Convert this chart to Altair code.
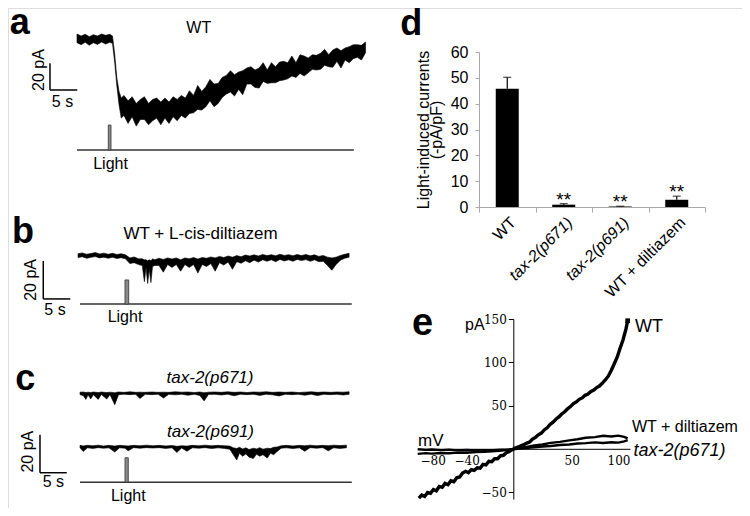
import altair as alt
import pandas as pd

# ---------------- panel a : WT light-induced current (noisy trace envelope, pA) ----------------
A_T = [0, 0.75, 1.5, 2.25, 3.0, 3.75, 4.5, 5.25, 6.0, 6.5,
       6.9, 7.3, 7.7, 8.1,
       8.6, 9.35, 10.1, 10.85, 11.6, 12.35, 13.1, 13.85, 14.6, 15.35,
       16.1, 16.85, 17.6, 18.35, 19.1, 19.85,
       20.6, 21.35, 22.1, 22.85, 23.6, 24.35, 25.1, 25.85, 26.6, 27.35,
       28.1, 28.85, 29.6, 30.35, 31.1, 31.85, 32.6, 33.35, 34.1, 34.85,
       35.6, 36.35, 37.1, 37.85, 38.6, 39.35, 40.1, 40.85, 41.6, 42.35,
       43.1, 43.85, 44.6, 45.35, 46.1, 46.85, 47.6, 48.35, 49.1, 49.85,
       50.6, 51.35, 52.1, 52.85]
A_HI = [3.0, 1.5, 2.8, 1.0, 2.5, 1.5, 3.0, 2.0, 2.8, 1.5,
        -12, -30, -40, -45,
        -43, -47, -44, -49, -46, -44, -49, -46, -45, -48,
        -45, -48, -44, -46, -43, -45,
        -39.5, -43, -35.5, -40, -36.5, -31, -34.5, -34, -29.5, -28,
        -24.5, -27.5, -25.5, -24.5, -22.5, -21.5, -24, -22.5, -18.5, -24,
        -18.5, -21.5, -18, -17.5, -18.5, -13.5, -18.5, -12.5, -13.5, -15,
        -12.5, -13, -11.5, -8.5, -12.5, -9, -7.5, -9.5, -7.5, -6.5,
        -5, -5, -5.5, -3]
A_LO = [-3.5, -5.0, -3.2, -5.5, -3.5, -4.8, -3.0, -4.5, -3.2, -4.0,
        -18, -36, -50, -60,
        -58, -64, -59, -66, -61, -61, -65, -62, -60, -65,
        -60, -64, -59, -62, -58, -60,
        -56.5, -56, -53.5, -54, -51.5, -47, -51.5, -49, -44.5, -42,
        -40.5, -43.5, -38.5, -42.5, -34.5, -34.5, -37, -37.5, -32.5, -34,
        -33.5, -33.5, -32, -31.5, -30.5, -28.5, -29.5, -26.5, -28.5, -26,
        -23.5, -24, -23.5, -20.5, -21.5, -22, -17.5, -22.5, -16.5, -18.5,
        -15.5, -14.5, -16.5, -11]

# ---------------- panel b : WT + L-cis-diltiazem ----------------
B_T = [0, 0.8, 1.6, 2.4, 3.2, 4.0, 4.8, 5.6, 6.4, 7.2, 8.0, 8.8, 9.6, 10.4, 11.2,
       11.9, 12.3, 12.6, 12.9, 13.2, 13.5, 13.8, 14.2,
       15.0, 15.8, 16.6, 17.4, 18.2, 19.0, 19.8, 20.6, 21.4, 22.2,
       23.0, 23.8, 24.6, 25.4, 26.2, 27.0, 27.8, 28.6, 29.4, 30.2,
       31.0, 31.8, 32.6, 33.4, 34.2, 35.0, 35.8, 36.6, 37.4, 38.2,
       39.0, 39.8, 40.6, 41.4, 42.2, 43.0, 43.8, 44.6, 45.4, 46.2,
       47.0, 47.8, 48.6, 49.4, 50.2]
B_HI = [1.2, 1.6, 0.9, 1.3, 1.8, 1.1, 1.5, 0.9, 1.4, 0.8, 1.2, 0.6, -1.0, -0.5, -1.5,
        -1.5, -2.0, -2.0, -2.5, -2.0, -2.5, -1.5, -2.0,
        -1.2, -1.8, -1.0, -1.6, -1.0, -2.0, -1.0, -1.5, -0.8, -1.6,
        -0.8, -1.2, -0.5, -1.0, -0.2, -0.8, 0.0, -0.6, 0.2, -0.4,
        0.5, 0.0, 0.6, 0.0, 0.8, 0.2, 0.7, 0.1, 0.9, 0.3,
        0.7, 0.1, 0.8, 0.2, 0.8, 0.1, 0.6, -0.2, 0.3, -0.6,
        -1.0, -0.6, 0.3, 0.9, 1.4]
B_LO = [-0.8, -0.4, -1.2, -0.7, -0.3, -1.0, -0.6, -1.2, -0.7, -1.3, -0.9, -1.5, -4.0, -3.5, -4.5,
        -5.0, -13.5, -6.0, -14.5, -7.0, -14.0, -5.5, -5.0,
        -5.0, -8.5, -4.5, -6.0, -4.5, -8.0, -4.5, -6.0, -4.5, -9.0,
        -4.5, -5.5, -4.0, -8.0, -3.5, -4.8, -3.2, -7.0, -3.0, -3.8,
        -2.5, -3.5, -2.2, -3.2, -2.0, -2.8, -2.0, -3.0, -1.8, -2.6,
        -2.0, -2.8, -1.8, -2.4, -1.9, -2.8, -2.0, -3.0, -2.8, -5.0,
        -7.5, -4.5, -2.2, -1.2, -0.6]

# ---------------- panel c : tax-2 mutants ----------------
C1_T = [0.0, 0.6, 1.1, 1.5, 2.0, 2.5, 3.4, 4.0, 5.0, 5.6,
        6.5, 7.2, 8.2, 9.4, 10.4, 11.2, 12.2, 13.4, 14.6, 15.6,
        16.6, 17.8, 19.0, 20.2, 21.4, 22.4, 23.2, 24.0, 25.2, 26.4,
        27.6, 28.8, 30.0, 31.2, 32.4, 33.6, 34.8, 36.0, 37.2, 38.4,
        39.6, 40.8, 42.0, 43.2, 44.4, 45.6, 46.8, 48.0, 49.2, 50.3]
C1_HI = [0.6, 0.7, 0.4, 0.6, 0.4, 0.7, 0.4, 0.7, 0.4, 0.6,
         0.3, 0.7, 0.5, 0.8, 0.5, 0.6, 0.5, 0.7, 0.5, 0.6,
         0.5, 0.8, 0.6, 0.7, 0.4, 0.7, 0.3, 0.6, 0.7, 0.5,
         0.8, 0.5, 0.7, 0.4, 0.7, 0.6, 0.8, 0.5, 0.7, 0.5,
         0.7, 0.4, 0.6, 0.8, 0.5, 0.7, 0.5, 0.7, 0.6, 0.8]
C1_LO = [-0.7, -1.2, -3.2, -0.8, -3.0, -0.7, -3.2, -0.6, -3.0, -0.7,
         -6.0, -0.7, -0.5, -0.7, -0.5, -2.8, -0.5, -0.7, -0.5, -2.5,
         -0.5, -0.8, -0.5, -1.0, -0.5, -1.2, -4.0, -0.6, -0.5, -0.9,
         -0.5, -1.3, -0.5, -0.7, -0.5, -1.1, -0.5, -0.8, -1.4, -0.5,
         -0.7, -0.5, -1.0, -0.5, -1.2, -0.5, -0.7, -0.5, -0.9, -0.5]
C2_T = [0.0, 0.6, 1.4, 2.4, 3.4, 4.4, 5.4, 6.5, 7.4, 8.4,
        9.0, 10.0, 11.2, 12.4, 13.6, 14.8, 16.0, 17.2, 18.1, 19.0,
        20.0, 21.0, 22.2, 23.4, 24.6, 25.8, 27.0, 28.0, 28.6, 29.3,
        29.8, 30.4, 31.0, 31.6, 32.4, 33.0, 33.6, 34.2, 35.0, 35.6,
        36.2, 36.8, 37.6, 38.6, 39.8, 41.0, 42.0, 43.0, 44.2, 45.4,
        46.4, 47.4, 48.6, 49.8]
C2_HI = [0.7, 0.4, 0.7, 0.5, 0.8, 0.4, 0.7, 0.3, 0.7, 0.5,
         0.4, 0.7, 0.5, 0.8, 0.5, 0.7, 0.4, 0.6, 0.2, 0.5,
         0.3, 0.7, 0.5, 0.8, 0.5, 0.7, 0.5, 0.3, -0.5, -1.0,
         -0.3, -1.2, -0.6, -1.5, -0.8, -1.2, -0.5, -1.3, -0.8, -1.0,
         -0.3, -0.2, 0.5, 0.7, 0.4, 0.7, 0.5, 0.8, 0.5, 0.7,
         0.5, 0.8, 0.6, 0.8]
C2_LO = [-0.6, -2.5, -0.6, -0.9, -0.5, -0.8, -0.6, -2.8, -0.6, -0.8,
         -2.2, -0.5, -0.8, -0.5, -0.7, -0.5, -0.9, -0.6, -3.0, -0.7,
         -2.4, -0.6, -0.8, -0.5, -1.0, -0.6, -0.9, -1.4, -4.0, -7.0,
         -3.5, -5.0, -3.8, -5.5, -6.2, -4.0, -5.0, -4.2, -6.0, -3.5,
         -4.2, -2.6, -0.8, -0.6, -1.0, -0.6, -2.4, -0.5, -0.8, -0.5,
         -2.2, -0.6, -0.9, -0.6]

# ---------------- panel d : bar chart ----------------
D_GROUPS = ["WT", "tax-2(p671)", "tax-2(p691)", "WT + diltiazem"]
D_MEAN = [45.8, 0.9, 0.2, 2.8]
D_TOP = [50.2, 1.3, 0.3, 4.2]
D_SIG = ["", "**", "**", "**"]
D_Y_TICKS = [0, 10, 20, 30, 40, 50, 60]

# ---------------- panel e : I-V curves (mV, pA) ----------------
E_WT_V = [-81, -78.5, -76, -73.5, -71, -68.5, -66, -63.5, -61, -58.5,
          -56, -53.5, -51, -48.5, -46, -43.5, -41, -38.5, -36, -33.5,
          -31, -28.5, -26, -23.5, -21, -18.5, -16, -13.5, -11, -8.5,
          -6, -3.5, -1, 1.5, 4, 6.5, 9, 11.5, 14, 16.5,
          19, 21.5, 24, 26.5, 29, 31.5, 34, 36.5, 39, 41.5,
          44, 46.5, 49, 51.5, 54, 56.5, 59, 61.5, 64, 66.5,
          69, 71.5, 74, 76.5, 79, 81.5, 84, 86.5, 89, 91.5,
          94, 96.5, 98]
E_WT_I = [-57, -53.5, -55, -50.5, -51.5, -47, -48.5, -43.5, -44.5, -40,
          -41.5, -37, -38, -33.5, -32.5, -28, -26, -27.5, -24, -25,
          -22, -22.5, -18, -18.5, -14.5, -15, -11.5, -11.5, -8, -7.5,
          -4.5, -3.2, -1, 0.8, 1.8, 3.6, 4.8, 6.6, 7.8, 11.2,
          13.2, 16.2, 18.2, 21.8, 24.2, 28.2, 30.8, 34.2, 36.8, 40.2,
          42.8, 46.2, 48.8, 52.2, 54.2, 57.2, 58.8, 61.8, 63.2, 66.2,
          67.8, 70.8, 72.8, 76.2, 79.8, 84.2, 90.8, 98.2, 105.8, 116.2,
          125.8, 138.2, 148]
E_DIL_V = [-82, -75, -70, -62, -55, -48, -40, -32, -25, -18, -10, -4, 0, 5,
           10, 18, 25, 32, 40, 48, 55, 62, 70, 77, 84, 90, 95, 98]
E_DIL_I = [-0.5, -1.2, -0.8, -1.5, -1.0, -1.8, -1.4, -1.9, -1.5, -1.6, -1.0, -0.8, -0.2, 0.8,
           2.0, 3.8, 5.0, 6.8, 8.0, 9.8, 11.0, 12.8, 13.5, 15.0, 14.2, 15.2, 13.8, 12.0]
E_P671_V = [-82, -75, -70, -62, -55, -48, -40, -32, -25, -18, -10, -4, 0, 5,
            10, 18, 25, 32, 40, 48, 55, 62, 70, 77, 84, 90, 95, 98]
E_P671_I = [-5.8, -5.0, -5.6, -4.8, -5.2, -4.4, -4.6, -3.8, -3.5, -2.8, -2.0, -1.2, -0.6, 0.2,
            1.0, 1.8, 2.6, 3.2, 4.4, 5.0, 6.2, 6.6, 7.4, 6.8, 7.6, 7.2, 8.6, 10.0]
E_Y_TICKS = [150, 100, 50, -50]
E_X_TICKS = [-80, -40, 50, 100]

SCALE_PA = 20
SCALE_S = 5

# ---------------- style / layout (pixel ranges of each panel inside the 734x500 canvas) ----------------
FONT = "Liberation Sans"
SERIF = "DejaVu Serif"
W, H = 734, 500
GRAY = "#a8a8a8"


def lin(domain, rng):
    return alt.Scale(domain=domain, range=rng, nice=False, zero=False)


def trace_panel(xs, ys, traces, stim, bar, texts):
    def X(f):
        return alt.X(f, type="quantitative", scale=xs, axis=None)

    def Y(f):
        return alt.Y(f, type="quantitative", scale=ys, axis=None)

    layers = []
    for t, hi, lo, off in traces:
        df = pd.DataFrame({"t": t, "hi": [v + off for v in hi], "lo": [v + off for v in lo]})
        layers.append(alt.Chart(df).mark_area(color="black", stroke="black", strokeWidth=0.6)
                      .encode(x=X("t"), y=Y("lo"), y2="hi"))
    t0, t1, on, off, base, top = stim
    layers.append(alt.Chart(pd.DataFrame({"t": [t0], "t2": [t1], "v": [base]}))
                  .mark_rule(color="#333333", strokeWidth=1.5)
                  .encode(x=X("t"), x2="t2", y=Y("v")))
    layers.append(alt.Chart(pd.DataFrame({"t": [on], "t2": [off], "v": [base], "v2": [top]}))
                  .mark_rect(fill="#8a8a8a", stroke="#333333", strokeWidth=0.8)
                  .encode(x=X("t"), x2="t2", y=Y("v"), y2="v2"))
    bt, bv = bar
    layers.append(alt.Chart(pd.DataFrame({"t": [bt], "v": [bv], "v2": [bv + SCALE_PA]}))
                  .mark_rule(color="black", strokeWidth=1.5)
                  .encode(x=X("t"), y=Y("v"), y2="v2"))
    layers.append(alt.Chart(pd.DataFrame({"t": [bt], "t2": [bt + SCALE_S], "v": [bv]}))
                  .mark_rule(color="black", strokeWidth=1.5)
                  .encode(x=X("t"), x2="t2", y=Y("v")))
    for txt, tx, ty, props in texts:
        layers.append(alt.Chart(pd.DataFrame({"t": [tx], "v": [ty], "s": [txt]}))
                      .mark_text(color="black", font=FONT, **props)
                      .encode(x=X("t"), y=Y("v"), text="s:N"))
    return alt.layer(*layers)


LETTER = dict(fontSize=36, fontWeight="bold", align="left", baseline="alphabetic")
LAB = dict(fontSize=16)
ROT = dict(fontSize=16, angle=270)

panel_a = trace_panel(
    lin([0, 50], [69, 342]), lin([-100, 0], [163.5, 30]),
    [(A_T, A_HI, A_LO, 0)],
    (0, 50.7, 5.73, 6.23, -83.9, -65.2),
    (-4.95, -38.95),
    [("a", -12.3, 3.0, LETTER), ("WT", 22.3, 7.5, LAB), ("20 pA", -7.0, -24.0, ROT),
     ("5 s", -2.66, -47.9, LAB), ("Light", 6.14, -94.4, LAB)])

panel_b = trace_panel(
    lin([0, 50], [70, 340]), lin([-20, 0], [286, 248]),
    [(B_T, B_HI, B_LO, 0)],
    (0.37, 50.7, 8.70, 9.39, -25.3, -12.6),
    (-6.43, -22.6),
    [("b", -12.2, 6.8, LETTER), ("WT + L-cis-diltiazem", 22.7, 11.6, dict(fontSize=17)),
     ("20 pA", -8.7, -12.6, ROT), ("5 s", -4.26, -28.4, LAB), ("Light", 8.7, -32.1, LAB)])

panel_c = trace_panel(
    lin([0, 50], [72, 339.5]), lin([-20, 0], [423.3, 385.3]),
    [(C1_T, C1_HI, C1_LO, 0), (C2_T, C2_HI, C2_LO, -28.1)],
    (0, 50.8, 8.41, 9.03, -46.8, -33.9),
    (-7.48, -41.8),
    [("c", -12.1, 1.7, LETTER),
     ("tax-2(p671)", 24.3, 8.05, dict(fontSize=17, fontStyle="italic")),
     ("tax-2(p691)", 24.4, -20.2, dict(fontSize=17, fontStyle="italic")),
     ("20 pA", -9.66, -30.7, ROT), ("5 s", -4.99, -46.9, LAB), ("Light", 9.03, -53.8, LAB)])

# ---------------- panel d ----------------
d_df = pd.DataFrame({"group": D_GROUPS, "mean": D_MEAN, "top": D_TOP, "sig": D_SIG})
d_x_axis = alt.Axis(title=None, orient="bottom", offset=199 - H, labelAngle=-45, labelFontSize=16,
                    labelFont=FONT, labelColor="black", domainColor=GRAY, tickColor=GRAY, tickSize=5,
                    tickBand="extent", labelPadding=2, grid=False,
                    labelFontStyle={"condition": {"test": "indexof(datum.label, 'tax') >= 0",
                                                  "value": "italic"}, "value": "normal"})
d_y_axis = alt.Axis(title=["Light-induced currents", "(-pA/pF)"], orient="left", offset=-471,
                    titleFontSize=16, titleFont=FONT, titleFontWeight="normal", titleColor="black",
                    titleLineHeight=13, titlePadding=6,
                    values=D_Y_TICKS, labelFontSize=16, labelFont=FONT, labelColor="black",
                    domainColor=GRAY, tickColor=GRAY, tickSize=4, labelPadding=7, grid=False)
dxs = alt.Scale(range=[471, 697], paddingInner=0, paddingOuter=0)
dys = lin([0, 60], [199, 44])


def DX():
    return alt.X("group:N", sort=D_GROUPS, scale=dxs, axis=d_x_axis)


def DY(f):
    return alt.Y(f, type="quantitative", scale=dys, axis=d_y_axis)


d_base = alt.Chart(d_df)
d_bars = d_base.mark_bar(size=23, color="black").encode(x=DX(), y=DY("mean"))
d_err = d_base.mark_rule(color="black", strokeWidth=1.2).encode(x=DX(), y=DY("mean"), y2="top")
d_cap = d_base.mark_tick(orient="horizontal", size=8, thickness=1.2, color="black").encode(x=DX(), y=DY("top"))
d_sig = d_base.mark_text(fontSize=19, font=FONT, baseline="alphabetic", dy=2, color="black").encode(
    x=DX(), y=DY("top"), text="sig:N")
d_letter = alt.Chart(pd.DataFrame({"group": ["WT"], "v": [66.5], "s": ["d"]})).mark_text(
    fontSize=36, fontWeight="bold", font=FONT, align="left", baseline="alphabetic", dx=-107, color="black"
).encode(x=DX(), y=DY("v"), text="s:N")
panel_d = alt.layer(d_bars, d_err, d_cap, d_sig, d_letter)

# ---------------- panel e ----------------
exs = lin([-80, 100], [412, 622])
eys = lin([-58, 150], [491, 311])
e_x_axis = alt.Axis(title=None, orient="bottom", offset=440.8 - H, values=E_X_TICKS, ticks=False,
                    grid=False, labelFont=SERIF, labelFontSize=12, labelColor="black", labelPadding=7,
                    domainColor="black", domainWidth=1)
e_y_axis = alt.Axis(title=None, orient="left", offset=-505.3, values=E_Y_TICKS, tickSize=5,
                    tickColor="black", grid=False, labelFont=SERIF, labelFontSize=12, labelColor="black",
                    labelPadding=2, domainColor="black", domainWidth=1)


def EX(f):
    return alt.X(f, type="quantitative", scale=exs, axis=e_x_axis)


def EY(f):
    return alt.Y(f, type="quantitative", scale=eys, axis=e_y_axis)


e_layers = []
for vv, ii, sw in [(E_DIL_V, E_DIL_I, 2.4), (E_P671_V, E_P671_I, 2.4), (E_WT_V, E_WT_I, 3.4)]:
    e_layers.append(alt.Chart(pd.DataFrame({"mv": vv, "pa": ii}))
                    .mark_line(color="black", strokeWidth=sw)
                    .encode(x=EX("mv"), y=EY("pa")))
e_layers.append(alt.Chart(pd.DataFrame({"mv": [E_WT_V[-1]], "pa": [E_WT_I[-1]]}))
                .mark_square(size=22, color="black", opacity=1)
                .encode(x=EX("mv"), y=EY("pa")))
E_TEXTS = [
    ("e", -86.8, 131.4, dict(fontSize=38, fontWeight="bold", align="left", baseline="alphabetic")),
    ("pA", -33.0, 143, dict(fontSize=16)),
    ("mV", -70.7, 9.0, dict(fontSize=17)),
    ("WT", 104.2, 141, dict(fontSize=18, align="left")),
    ("WT + diltiazem", 101.7, 25.5, dict(fontSize=16, align="left")),
    ("tax-2(p671)", 102.9, -2.0, dict(fontSize=18, align="left", fontStyle="italic")),
]
for txt, tx, ty, props in E_TEXTS:
    e_layers.append(alt.Chart(pd.DataFrame({"mv": [tx], "pa": [ty], "s": [txt]}))
                    .mark_text(color="black", font=FONT, **props)
                    .encode(x=EX("mv"), y=EY("pa"), text="s:N"))
panel_e = alt.layer(*e_layers)

chart = alt.layer(panel_a, panel_b, panel_c, panel_d, panel_e).resolve_scale(
    x="independent", y="independent"
).properties(
    width=W, height=H, padding=0, background="white",
    autosize=alt.AutoSizeParams(type="none")
).configure_view(stroke=None).configure(font=FONT)

chart.save("out.html", embed_options={"renderer": "svg", "actions": False})
